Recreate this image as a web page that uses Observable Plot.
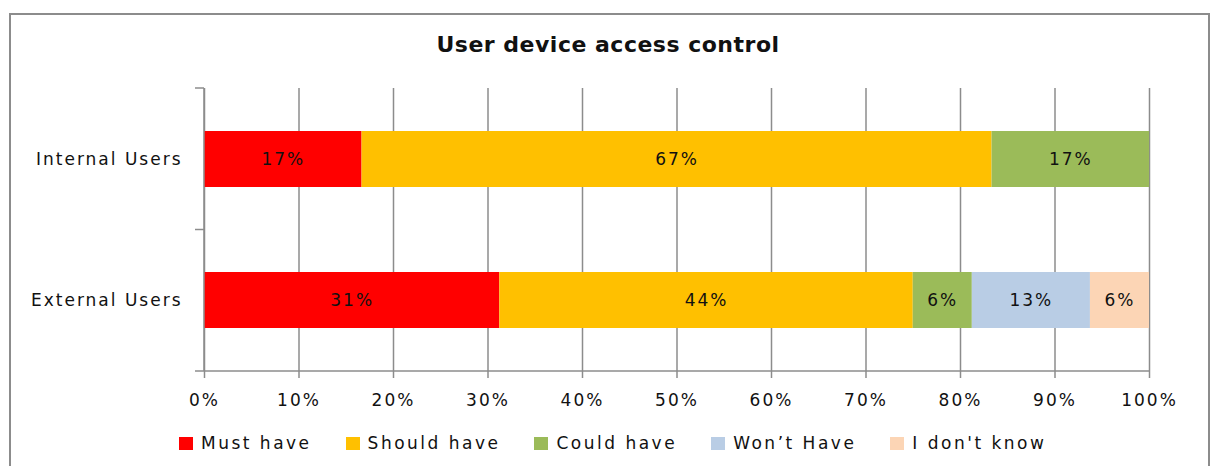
<!DOCTYPE html>
<html><head><meta charset="utf-8">
<script src="https://cdn.jsdelivr.net/npm/d3@7"></script>
<script src="https://cdn.jsdelivr.net/npm/@observablehq/plot@0.6"></script>
<style>
body{margin:0;background:#fff;font-family:"DejaVu Sans",sans-serif;}
#wrap{position:relative;width:1210px;height:466px;overflow:hidden;background:#fff;}
#border{position:absolute;left:9px;top:13px;width:1201px;height:480px;border:2px solid #8c8c8c;box-sizing:border-box;}
#title{position:absolute;left:0;width:1216px;top:32px;text-align:center;font-weight:bold;font-size:22px;letter-spacing:0.5px;color:#111;line-height:1.164;}
#chart{position:absolute;left:0;top:0;}
#legend{position:absolute;top:433px;left:179px;display:flex;align-items:center;font-size:17px;letter-spacing:2.5px;color:#111;white-space:nowrap;}
.item{display:flex;align-items:center;margin-right:34px;}
.sw{width:14px;height:13px;margin-right:8px;}
</style></head>
<body><div id="wrap"><div id="border"></div><div id="chart"></div><div id="title">User device access control</div><div id="legend"></div></div>
<script>
const groups = ["Internal Users", "External Users"];
const categories = ["Must have", "Should have", "Could have", "Won’t Have", "I don't know"];
const colors = ["#FF0000", "#FFC000", "#9BBB59", "#B9CDE5", "#FCD5B5"];
const internalValues = [16.67, 66.67, 16.67, 0, 0];
const externalValues = [31.25, 43.75, 6.25, 12.5, 6.25];
const xTicks = [0, 10, 20, 30, 40, 50, 60, 70, 80, 90, 100];

const series = [internalValues, externalValues];
const rows = [];
groups.forEach((g, gi) => categories.forEach((c, ci) => {
  if (series[gi][ci] > 0) rows.push({group: g, category: c, value: series[gi][ci]});
}));

function axisDecor(index, scales, values, dimensions) {
  const y = scales.y, x = scales.x;
  const bw = y.bandwidth ? y.bandwidth() : 0;
  const top = dimensions.marginTop, bottom = dimensions.height - dimensions.marginBottom;
  const x0 = x(0), x1 = x(100);
  const bounds = [top];
  for (let i = 1; i < groups.length; i++) bounds.push((y(groups[i - 1]) + bw + y(groups[i])) / 2);
  bounds.push(bottom);
  const g = d3.create("svg:g").attr("stroke", "#8c8c8c").attr("stroke-width", 1.5);
  g.append("line").attr("x1", x0).attr("x2", x1).attr("y1", bottom).attr("y2", bottom);
  g.append("line").attr("x1", x0).attr("x2", x0).attr("y1", top).attr("y2", bottom);
  for (const b of bounds) g.append("line").attr("x1", x0 - 9).attr("x2", x0).attr("y1", b).attr("y2", b);
  return g.node();
}

const chart = Plot.plot({
  width: 1210, height: 466,
  marginLeft: 204, marginRight: 61, marginTop: 88, marginBottom: 95,
  x: {domain: [0, 100]},
  y: {domain: groups, paddingInner: 0.604, paddingOuter: 0.302},
  color: {domain: categories, range: colors},
  style: {fontFamily: "'DejaVu Sans', sans-serif", fontSize: "17px", color: "#111", background: "transparent", letterSpacing: "2px"},
  marks: [
    Plot.gridX(xTicks, {stroke: "#8c8c8c", strokeOpacity: 1, strokeWidth: 1.5}),
    Plot.barX(rows, {x: "value", y: "group", fill: "category"}),
    Plot.text(rows, Plot.stackX({x: "value", y: "group", text: d => Math.round(d.value) + "%", fill: "#111", fontSize: 17})),
    Plot.axisX(xTicks, {tickSize: 7, tickPadding: 15, tickFormat: d => d + "%", stroke: "#8c8c8c", strokeWidth: 1.5, fill: "#111", label: null, fontSize: 17}),
    Plot.axisY({tickSize: 0, tickPadding: 22, label: null, fill: "#111", fontSize: 17}),
    axisDecor
  ]
});
document.getElementById("chart").appendChild(chart);

const legend = d3.select("#legend");
categories.forEach((c, i) => {
  const it = legend.append("div").attr("class", "item");
  it.append("div").attr("class", "sw").style("background", colors[i]);
  it.append("span").text(c);
});
</script></body></html>
